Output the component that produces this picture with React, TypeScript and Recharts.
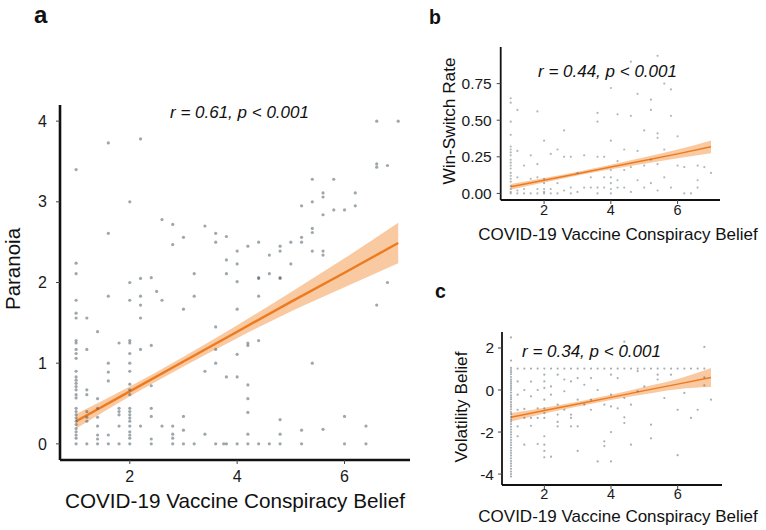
import React from 'react';
import { ComposedChart, Scatter, Line, Area, XAxis, YAxis } from 'recharts';

const FONT = '"Liberation Sans", Arial, Helvetica, sans-serif';

// ---------- Panel a: Paranoia vs COVID-19 Vaccine Conspiracy Belief ----------
const paranoiaColumns: [number, number[]][] = [
  [1.0, [3.4, 2.24, 2.11, 1.78, 1.62, 1.56, 1.28, 1.25, 1.17, 1.12, 1.06, 0.9, 0.83, 0.79, 0.75, 0.71, 0.67, 0.61, 0.57, 0.44, 0.4, 0.36, 0.32, 0.28, 0.24, 0.19, 0.15, 0.11, 0.07, 0.0]],
  [1.2, [1.56, 1.17, 0.67, 0.61, 0.4, 0.33, 0.28, 0.0]],
  [1.4, [1.39, 0.56, 0.44, 0.33, 0.22, 0.11, 0.06, 0.0]],
  [1.6, [3.73, 2.61, 1.83, 1.0, 0.89, 0.78, 0.11, 0.0]],
  [1.8, [1.25, 0.44, 0.4, 0.36, 0.22, 0.0]],
  [2.0, [3.0, 2.0, 1.78, 1.28, 1.25, 1.12, 1.0, 0.9, 0.74, 0.67, 0.61, 0.44, 0.4, 0.36, 0.32, 0.28, 0.22, 0.15, 0.11, 0.07, 0.0]],
  [2.2, [3.78, 2.05, 1.83, 1.72, 1.56, 1.17, 0.22]],
  [2.4, [2.06, 1.22, 0.72, 0.44, 0.34, 0.06, 0.0]],
  [2.5, [1.89]],
  [2.6, [2.78, 1.78, 0.22]],
  [2.8, [2.72, 2.47, 0.22, 0.12, 0.07, 0.0]],
  [3.0, [2.56, 1.67, 0.34, 0.17, 0.0]],
  [3.2, [2.11, 1.83, 0.0]],
  [3.4, [2.7, 0.9, 0.12]],
  [3.6, [2.61, 2.5, 1.45, 1.17, 1.0, 0.0]],
  [3.75, [0.0]],
  [3.8, [2.57, 2.28, 2.11, 0.83, 0.0]],
  [4.0, [2.39, 2.23, 2.01, 1.67, 1.11, 0.83, 0.0]],
  [4.2, [2.45, 1.25, 1.22, 0.73, 0.56, 0.39, 0.12, 0.0]],
  [4.4, [2.5, 2.06, 2.05, 1.83, 1.28, 0.0]],
  [4.6, [2.34, 2.11, 0.0]],
  [4.8, [2.45, 2.39, 2.06, 2.05, 0.3, 0.12, 0.0]],
  [5.0, [2.5, 2.23]],
  [5.2, [2.95, 2.56, 2.5, 0.17, 0.0]],
  [5.4, [3.28, 3.0, 2.67, 2.62, 2.39, 1.0]],
  [5.6, [3.11, 3.06, 2.84, 2.39, 2.34, 0.18]],
  [5.8, [3.28, 2.9]],
  [6.0, [2.9, 0.34, 0.0]],
  [6.2, [3.11, 2.95]],
  [6.4, [0.22, 0.0]],
  [6.6, [4.0, 3.47, 3.43, 1.72]],
  [6.8, [3.45, 2.0]],
  [7.0, [4.0]],
];
const fitX = [1, 2, 3, 4, 5, 6, 7];
const paranoiaFit = [0.28, 0.65, 1.02, 1.39, 1.76, 2.12, 2.49];
const paranoiaLo = [0.19, 0.59, 0.96, 1.31, 1.64, 1.94, 2.24];
const paranoiaHi = [0.37, 0.71, 1.08, 1.47, 1.88, 2.3, 2.74];
const paranoiaTicks = [0, 1, 2, 3, 4];

// ---------- Panel b: Win-Switch Rate ----------
const winSwitchColumns: [number, number[]][] = [
  [1.0, [0.65, 0.62, 0.49, 0.4, 0.32, 0.3, 0.28, 0.26, 0.23, 0.21, 0.19, 0.17, 0.14, 0.12, 0.1, 0.08, 0.05, 0.03, 0.01, 0.0]],
  [1.2, [0.57, 0.29, 0.11, 0.02, 0.0]],
  [1.4, [0.19, 0.03, 0.0]],
  [1.6, [0.26, 0.1, 0.0]],
  [1.8, [0.56, 0.2, 0.11, 0.03, 0.0]],
  [2.0, [0.36, 0.1, 0.07, 0.03, 0.01, 0.0]],
  [2.2, [0.27, 0.03, 0.0]],
  [2.4, [0.3, 0.07, 0.0]],
  [2.6, [0.43, 0.25, 0.02]],
  [2.8, [0.25, 0.04, 0.0]],
  [3.0, [0.14, 0.01]],
  [3.2, [0.26, 0.04]],
  [3.4, [0.11, 0.04]],
  [3.6, [0.55, 0.49, 0.25, 0.04, 0.0]],
  [3.8, [0.25, 0.11, 0.04]],
  [4.0, [0.72, 0.36, 0.16, 0.11, 0.07, 0.03, 0.0]],
  [4.2, [0.54, 0.22, 0.09, 0.04]],
  [4.4, [0.3, 0.16, 0.04]],
  [4.6, [0.9, 0.53, 0.18, 0.01]],
  [4.8, [0.68, 0.29, 0.09]],
  [5.0, [0.43, 0.19, 0.04]],
  [5.2, [0.64, 0.57, 0.23, 0.07]],
  [5.4, [0.94, 0.41, 0.38, 0.2, 0.02]],
  [5.6, [0.75, 0.3, 0.11]],
  [5.8, [0.71, 0.53, 0.04]],
  [6.0, [0.39, 0.19]],
  [6.2, [0.18, 0.0]],
  [6.4, [0.0]],
  [6.6, [0.19, 0.09, 0.04]],
  [6.8, [0.18]],
  [7.0, [0.14]],
];
const winSwitchFit = [0.045, 0.09, 0.135, 0.18, 0.225, 0.27, 0.318];
const winSwitchLo = [0.025, 0.075, 0.122, 0.165, 0.203, 0.24, 0.275];
const winSwitchHi = [0.065, 0.105, 0.148, 0.195, 0.247, 0.3, 0.362];
const winSwitchTicks = [0, 0.25, 0.5, 0.75];

// ---------- Panel c: Volatility Belief ----------
const volatilityColumns: [number, number[]][] = [
  [1.0, [2.5, 1.4, 1.05, 0.95, 0.85, 0.75, 0.62, 0.5, 0.4, 0.3, 0.2, 0.1, 0.0, -0.12, -0.25, -0.35, -0.45, -0.58, -0.7, -0.8, -0.92, -1.05, -1.15, -1.28, -1.4, -1.5, -1.62, -1.75, -1.88, -2.0, -2.12, -2.25, -2.38, -2.5, -2.62, -2.75, -2.88, -3.0, -3.12, -3.25, -3.38, -3.5, -3.62, -3.75, -3.88, -4.0, -4.12]],
  [1.2, [1.02, 0.41, -0.22, -0.94, -1.73, -2.2]],
  [1.4, [1.02, 0.0, -0.9, -1.33, -2.6]],
  [1.6, [1.02, 0.4, -0.3, -1.33, -1.7]],
  [1.8, [1.02, 0.0, -0.87, -1.33, -2.57]],
  [2.0, [1.02, 0.73, 0.41, 0.1, -0.46, -0.87, -1.1, -1.33, -2.2, -2.6, -2.9, -3.2]],
  [2.2, [1.02, 0.17, -0.22, -3.17]],
  [2.4, [1.02, 0.73, -0.7, -1.17, -1.52, -1.73]],
  [2.6, [1.02, 0.5, -0.06, -0.94]],
  [2.8, [1.02, 0.41, -1.17, -1.33, -1.73]],
  [3.0, [1.02, 0.57, -0.46, -1.73, -2.9]],
  [3.2, [1.02, 0.25, -0.7]],
  [3.4, [1.02, 0.57, -0.46, -0.94]],
  [3.6, [1.02, 0.0, -3.4]],
  [3.8, [1.02, -0.7, -2.44, -2.67]],
  [4.0, [1.02, 0.73, -0.22, -0.78, -2.0, -3.4]],
  [4.2, [1.02, 0.57, -0.87]],
  [4.4, [2.3, 1.02, -0.38, -1.3, -1.57]],
  [4.6, [1.02, -0.7, -2.6]],
  [4.8, [1.02, 0.9, -0.06]],
  [5.0, [1.02, 0.17]],
  [5.2, [1.02, -1.65, -2.3]],
  [5.4, [1.02, 0.73, 0.5]],
  [5.6, [1.02, -0.38]],
  [5.8, [1.02, 0.73]],
  [6.0, [1.02, -0.94, -3.1]],
  [6.2, [1.02, -0.14]],
  [6.4, [1.02, -1.33]],
  [6.6, [1.02, -0.94]],
  [6.8, [2.05, 1.02, 0.6, 0.22]],
  [7.0, [-0.46]],
];
const volatilityFit = [-1.3, -0.98, -0.67, -0.35, -0.03, 0.28, 0.6];
const volatilityLo = [-1.5, -1.12, -0.78, -0.47, -0.2, 0.04, 0.14];
const volatilityHi = [-1.1, -0.84, -0.56, -0.23, 0.14, 0.52, 1.05];
const volatilityTicks = [-4, -2, 0, 2];

const xTicks = [2, 4, 6];

function buildFit(fit: number[], lo: number[], hi: number[]) {
  return fitX.map((x, i) => ({ x, fit: fit[i], band: [lo[i], hi[i]] }));
}
function buildPoints(cols: [number, number[]][]) {
  return cols.flatMap(([x, ys]) => ys.map((y) => ({ x, y })));
}

type PanelProps = {
  left: number; top: number; width: number; height: number;
  margin: { top: number; right: number; bottom: number; left: number };
  yWidth: number;
  xDomain: [number, number]; yDomain: [number, number];
  yTicks: number[];
  points: { x: number; y: number }[];
  fit: { x: number; fit: number; band: number[] }[];
  dotR: number; dotOpacity: number;
  axisW: number; lineW: number; fontSize: number; xFontSize?: number;
  yTickMargin: number; xTickMargin: number;
  yFormat?: (v: number) => string;
};

function Panel(p: PanelProps) {
  const tickStyle = { fontSize: p.fontSize, fill: '#1a1a1a', fontFamily: FONT };
  const xTickStyle = { ...tickStyle, fontSize: p.xFontSize ?? p.fontSize };
  return (
    <div style={{ position: 'absolute', left: p.left, top: p.top }}>
      <ComposedChart width={p.width} height={p.height} data={p.fit} margin={p.margin}>
        <XAxis
          type="number" dataKey="x" domain={p.xDomain} ticks={xTicks} allowDataOverflow
          axisLine={{ stroke: '#111', strokeWidth: p.axisW }} tickLine={{ stroke: '#444' }}
          tickSize={4} tickMargin={p.xTickMargin} tick={xTickStyle} height={30}
        />
        <YAxis
          type="number" dataKey="y" domain={p.yDomain} ticks={p.yTicks} allowDataOverflow
          axisLine={{ stroke: '#111', strokeWidth: p.axisW }} tickLine={{ stroke: '#444' }}
          tickSize={4} tickMargin={p.yTickMargin} tick={tickStyle} width={p.yWidth}
          tickFormatter={p.yFormat}
        />
        <Scatter
          data={p.points} dataKey="y" isAnimationActive={false}
          shape={(s: any) => (
            <circle cx={s.cx} cy={s.cy} r={p.dotR} fill="#4f5f68" fillOpacity={p.dotOpacity} />
          )}
        />
        <Area
          dataKey="band" type="monotone" stroke="none" fill="#F5A868" fillOpacity={0.62}
          isAnimationActive={false} activeDot={false}
        />
        <Line
          dataKey="fit" type="linear" stroke="#EE7A1E" strokeWidth={p.lineW} dot={false}
          activeDot={false} isAnimationActive={false}
        />
      </ComposedChart>
    </div>
  );
}

export default function App() {
  const ptsA = buildPoints(paranoiaColumns);
  const ptsB = buildPoints(winSwitchColumns);
  const ptsC = buildPoints(volatilityColumns);
  return (
    <div style={{ position: 'absolute', left: 0, top: 0, width: 766, height: 530, background: '#fff', overflow: 'hidden', fontFamily: FONT }}>
      <Panel
        left={0} top={0} width={420} height={500}
        margin={{ top: 105, right: 10, bottom: 10, left: 0 }} yWidth={60}
        xDomain={[0.7, 7.22]} yDomain={[-0.2, 4.2]} yTicks={paranoiaTicks}
        points={ptsA} fit={buildFit(paranoiaFit, paranoiaLo, paranoiaHi)}
        dotR={1.6} dotOpacity={0.55} axisW={2.6} lineW={2.4} fontSize={16}
        yTickMargin={9} xTickMargin={7}
      />
      <Panel
        left={400} top={0} width={330} height={240}
        margin={{ top: 47, right: 10, bottom: 10, left: 0 }} yWidth={100.7}
        xDomain={[0.7, 7.27]} yDomain={[-0.045, 1.0]} yTicks={winSwitchTicks}
        points={ptsB} fit={buildFit(winSwitchFit, winSwitchLo, winSwitchHi)}
        dotR={1.1} dotOpacity={0.45} axisW={1.8} lineW={1.5} fontSize={15.5} xFontSize={14.5}
        yTickMargin={5} xTickMargin={1}
        yFormat={(v: number) => v.toFixed(2)}
      />
      <Panel
        left={400} top={290} width={332} height={235}
        margin={{ top: 42, right: 10, bottom: 10, left: 0 }} yWidth={102}
        xDomain={[0.73, 7.33]} yDomain={[-4.52, 2.76]} yTicks={volatilityTicks}
        points={ptsC} fit={buildFit(volatilityFit, volatilityLo, volatilityHi)}
        dotR={1.1} dotOpacity={0.5} axisW={1.8} lineW={1.5} fontSize={15.5} xFontSize={14.5}
        yTickMargin={4} xTickMargin={0}
      />
      <svg width={766} height={530} style={{ position: 'absolute', left: 0, top: 0, pointerEvents: 'none' }}
        fontFamily={FONT} fill="#111">
        <text x={34} y={23} fontSize={24} fontWeight="bold">a</text>
        <text x={429} y={24} fontSize={19.5} fontWeight="bold">b</text>
        <text x={435} y={298} fontSize={19.5} fontWeight="bold">c</text>

        <text x={170} y={118} fontSize={17} fontStyle="italic">r = 0.61, p &lt; 0.001</text>
        <text x={538} y={77} fontSize={17} fontStyle="italic">r = 0.44, p &lt; 0.001</text>
        <text x={522} y={357} fontSize={17} fontStyle="italic">r = 0.34, p &lt; 0.001</text>

        <text x={235} y={508} fontSize={20.7} textAnchor="middle">COVID-19 Vaccine Conspiracy Belief</text>
        <text x={618} y={240} fontSize={17} textAnchor="middle">COVID-19 Vaccine Conspiracy Belief</text>
        <text x={618} y={522} fontSize={17} textAnchor="middle">COVID-19 Vaccine Conspiracy Belief</text>

        <text transform="translate(20,269) rotate(-90)" fontSize={20.5} textAnchor="middle">Paranoia</text>
        <text transform="translate(455,121) rotate(-90)" fontSize={17.2} textAnchor="middle">Win-Switch Rate</text>
        <text transform="translate(467,407) rotate(-90)" fontSize={17.2} textAnchor="middle">Volatility Belief</text>
      </svg>
    </div>
  );
}
